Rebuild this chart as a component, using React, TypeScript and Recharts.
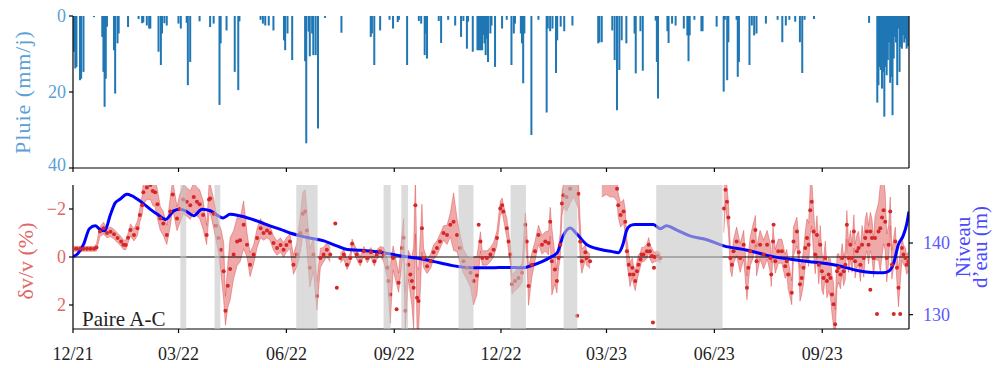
import React from 'react';
import { ComposedChart, Bar, Line, Area, XAxis, YAxis, ReferenceArea, ReferenceLine } from 'recharts';

const FONT = '"Liberation Serif", "DejaVu Serif", serif';
const X_MAX = 713; // days since 2021-12-01
const TICK_DAYS = [0, 90, 182, 274, 365, 455, 547, 639];
const TICK_LABELS = ['12/21', '03/22', '06/22', '09/22', '12/22', '03/23', '06/23', '09/23'];
const RAIN_TICKS = [0, 20, 40];
const DVV_TICKS = [-2, 0, 2];
const LEVEL_TICKS = [130, 140];

// [day, rain mm/j]
const RAIN: [number, number][] = [
  [1, 9.4], [2, 13.8], [3, 13.4], [6, 16.9], [7, 16.5], [9, 14.7], [18, 0.3], [25, 5.5], [26, 14.7], [27, 23.9],
  [28, 16.5], [29, 2.8], [35, 9], [36, 20.4], [38, 7.2], [39, 4.6], [47, 2.9], [56, 0.8], [59, 1.9], [60, 1.7],
  [63, 2.5], [65, 3.3], [66, 3.3], [73, 9.4], [75, 12.9], [76, 4.6], [78, 1.9], [80, 2.5], [90, 2], [92, 3.3],
  [97, 1.8], [98, 18.2], [100, 12.1], [108, 1.4], [117, 2.9], [120, 2], [125, 23.4], [126, 7.2], [131, 3.8],
  [138, 14.7], [141, 19.5], [142, 1.4], [160, 1], [162, 2], [164, 2.5], [167, 2.5], [171, 3.8], [180, 6.4],
  [181, 9], [183, 4.6], [187, 11.6], [198, 11.9], [199, 33.5], [201, 4.1], [202, 10.6], [204, 4.6], [205, 10.3],
  [207, 10.3], [209, 29.6], [215, 0.5], [229, 4.4], [254, 5.5], [255, 4.6], [257, 12.9], [262, 3.8], [270, 1],
  [273, 3.3], [277, 1.6], [278, 1], [285, 12.9], [295, 1.3], [297, 2], [300, 10.3], [301, 4.6], [302, 11.2],
  [312, 1.3], [314, 7.1], [320, 1], [326, 2.5], [331, 5.5], [333, 1.3], [336, 8.6], [337, 1.5], [341, 9.4],
  [345, 9], [346, 9], [347, 9], [348, 9], [349, 9], [350, 5], [351, 7.2], [352, 10.3], [353, 6], [354, 12.1],
  [356, 4.6], [357, 2.5], [360, 13.4], [366, 3.3], [370, 1], [374, 12.9], [376, 4.6], [377, 2], [382, 4.6],
  [383, 7.2], [384, 17.7], [385, 4.6], [391, 31.3], [397, 1], [404, 25.4], [405, 3.3], [407, 4], [409, 3.3],
  [412, 15], [413, 6.4], [416, 2.8], [419, 4], [426, 2.5], [448, 7.2], [449, 6.9], [451, 6.9], [460, 3.8],
  [462, 11.6], [464, 24.8], [466, 14.2], [468, 6.4], [472, 7.2], [479, 4.6], [480, 15.1], [484, 4], [486, 14.4],
  [497, 1.2], [498, 12.1], [499, 21.7], [507, 4], [508, 7.1], [511, 2], [514, 2.5], [521, 3.3], [524, 5.1],
  [525, 11.9], [526, 5.1], [530, 1], [536, 4], [537, 4], [549, 2.8], [555, 19.9], [556, 1], [558, 16.9],
  [559, 6.9], [566, 1], [567, 16], [568, 12.1], [577, 12.9], [579, 2.5], [581, 5.1], [583, 4.6], [591, 2],
  [601, 1], [605, 6.9], [608, 2.5], [611, 1], [616, 1.5], [620, 6.9], [622, 15], [624, 1], [632, 0.8], [679, 1.8],
  [686, 22.8], [687, 18.2], [688, 13.4], [689, 14.2], [690, 19.1], [691, 14.7], [692, 26.5], [693, 13.4],
  [694, 15.6], [695, 11.6], [696, 6.9], [697, 17.6], [698, 16], [699, 26.1], [700, 11.2], [701, 5.5], [702, 7],
  [703, 18.2], [704, 3.3], [705, 14.7], [706, 8.1], [707, 8.6], [708, 5], [709, 7], [710, 6], [711, 8.6], [712, 8],
];

// [day, water level m]
const LEVEL: [number, number][] = [
  [0, 138.1], [4, 138.5], [9, 139.8], [14, 142], [19, 142.4], [23, 141.9], [27, 141.7], [32, 144], [36, 145.6],
  [40, 146.1], [46, 146.8], [50, 146.6], [55, 146.1], [60, 145.5], [66, 144.7], [72, 144], [79, 143.3], [86, 144.5],
  [91, 144.7], [96, 144.5], [103, 143.8], [110, 144.7], [117, 144.5], [123, 143.9], [128, 143.5], [134, 144],
  [142, 143.8], [151, 143.4], [160, 142.9], [168, 142.4], [177, 141.9], [185, 141.4], [194, 141], [202, 140.7],
  [214, 140.3], [225, 139.6], [234, 139.1], [245, 139], [265, 138.65], [280, 138.2], [293, 137.9], [308, 137.4],
  [322, 136.9], [335, 136.6], [345, 136.55], [357, 136.55], [370, 136.6], [384, 136.55], [390, 136.8], [400, 137.4],
  [407, 138], [413, 138.65], [418, 141], [424, 142.1], [430, 141.2], [438, 139.8], [450, 139.1], [460, 138.8],
  [465, 138.65], [469, 139.8], [472, 141.7], [475, 142.4], [479, 142.6], [495, 142.6], [501, 142], [506, 142.4],
  [515, 141.8], [526, 141], [540, 140.5], [555, 139.6], [575, 139], [597, 138.1], [623, 137.5], [651, 136.9],
  [671, 136.1], [681, 135.9], [691, 135.85], [696, 136.1], [700, 137.25], [704, 139.8], [708, 141], [711, 142.6],
  [713, 144.4],
];

// [day, dv/v %, half-width of uncertainty band]
const DVV: [number, number, number][] = [
  [0, -0.34, 0.1], [3, -0.34, 0.1], [6, -0.34, 0.1], [9, -0.34, 0.1], [12, -0.34, 0.1], [15, -0.34, 0.1],
  [18, -0.34, 0.1], [20, -0.4, 0.15], [23, -1.06, 0.2], [26, -1.2, 0.25], [29, -1.0, 0.2], [32, -1.05, 0.2],
  [35, -0.95, 0.2], [38, -0.79, 0.2], [41, -0.65, 0.2], [43, -0.51, 0.2], [45, -0.5, 0.2], [47, -0.8, 0.2],
  [49, -1.13, 0.25], [52, -0.92, 0.25], [55, -1.2, 0.3], [57, -1.75, 0.3], [59, -2.16, 0.4], [60, -2.7, 0.5],
  [63, -2.9, 0.5], [66, -3.0, 0.6], [68, -2.75, 0.6], [70, -2.7, 0.6], [72, -2.2, 0.6], [74.5, -1.6, 0.5],
  [77, -1.4, 0.5], [80, -0.92, 0.4], [83, -1.9, 0.6], [85, -2.6, 0.6], [88.7, -1.6, 0.5], [91, -2.0, 0.6],
  [94, -2.4, 0.6], [97, -2.3, 0.6], [100, -2.16, 0.6], [103, -2.5, 0.6], [105.7, -2.3, 0.6], [108, -2.2, 0.6],
  [111, -1.75, 0.6], [114, -0.92, 0.4], [116, -2.4, 0.6], [117, -2.44, 0.6], [120, -1.8, 0.6], [122, -1.3, 0.6],
  [124, -0.79, 0.6], [126, -0.3, 0.9], [128.5, 0.59, 1.2], [130, 2.24, 0.6], [132, 1.2, 0.9], [134, 0.5, 1.3],
  [137, -0.1, 1.0], [140, -0.65, 1.0], [142.5, -0.7, 0.9], [145.5, -1.34, 1.0], [148.4, -0.51, 0.5],
  [151, 0.32, 0.5], [154, -0.1, 0.4], [157, -0.79, 0.4], [160, -1.2, 0.4], [162.5, -1.0, 0.3], [165.5, -1.1, 0.3],
  [168, -1.0, 0.3], [171, -0.58, 0.3], [174, -0.37, 0.3], [177, -0.5, 0.3], [179.6, -0.3, 0.3], [182, -0.5, 0.3],
  [185, -0.65, 0.3], [188, 0.32, 0.4], [191, -0.1, 0.5], [194, -1.0, 0.8], [196, -1.8, 0.9], [198, -1.9, 0.9],
  [199.5, -1.1, 0.8], [202, 0.45, 0.8], [205, -0.1, 0.7], [208, 1.62, 0.6], [211, 0.04, 0.4], [213.7, -0.1, 0.3],
  [216.5, -0.3, 0.3], [219.4, -0.1, 0.3], [228, 0.04, 0.2], [231, -0.1, 0.2], [233.7, 0.32, 0.2],
  [236.5, 0.04, 0.2], [238, -0.55, 0.2], [242, -0.1, 0.2], [245, 0.18, 0.2], [248, -0.24, 0.2], [251, 0.04, 0.2],
  [254, -0.2, 0.2], [257, 0.18, 0.2], [259, -0.1, 0.2], [262, -0.24, 0.2], [265, -0.1, 0.3], [268, 0.45, 0.4],
  [269, 1.0, 0.6], [270.6, 1.56, 1.2], [273, 0.04, 0.5], [277.7, 1.07, 0.4], [280.6, -0.37, 0.6],
  [282, -0.8, 0.8], [283.4, 2.24, 0.8], [286, 0.32, 0.6], [287.7, 0.73, 0.8], [289, 1.0, 1.0], [290.5, 1.28, 1.7],
  [292, -2.16, 1.2], [293.4, 1.7, 1.3], [294.7, 1.83, 1.3], [297.6, -1.2, 1.0], [299, 0.04, 0.4], [302, 0.39, 0.3],
  [305, 0.18, 0.3], [307.5, -0.2, 0.3], [310.4, -0.37, 0.3], [313, -0.65, 0.3], [316, -1.0, 0.3], [319, -0.92, 0.4],
  [321.8, -1.34, 0.5], [324.6, -1.47, 1.2], [327.5, -0.92, 0.7], [330, -0.37, 0.6], [333, 0.18, 0.5],
  [336, 0.45, 0.5], [339, 0.66, 0.6], [341.6, 1.0, 1.0], [344.5, 0.77, 0.8], [347.5, -0.65, 0.4], [349, 0.04, 0.3],
  [353, 0.04, 0.3], [356, -0.1, 0.3], [358.7, -0.3, 0.3], [361.6, -0.79, 0.3], [364.4, -2.02, 0.3],
  [366, -2.16, 0.3], [367, -1.9, 0.3], [370, -1.2, 0.4], [371.5, -0.65, 0.4], [373, -0.1, 0.4], [374.4, 1.14, 0.4],
  [377, 1.0, 0.4], [380, 0.87, 0.4], [383, 0.66, 0.4], [385.7, -1.34, 0.5], [387, -0.65, 0.5], [388.5, 1.21, 0.8],
  [391.4, 0.32, 0.5], [394, -0.24, 0.4], [397, -0.92, 0.4], [400, -0.51, 0.4], [402.8, -0.65, 0.4],
  [405.6, -0.58, 0.5], [407, -1.47, 0.6], [408.4, 0.18, 1.4], [411, 0.52, 0.6], [412.7, 1.0, 0.5], [414, 0.04, 0.5],
  [415.6, -0.51, 0.5], [417, -2.23, 0.5], [418.4, -2.57, 0.5], [421, -2.5, 0.6], [424, -2.84, 0.6],
  [427, -3.1, 0.6], [431, -2.64, 0.6], [432.6, -0.65, 0.8], [434, 0.18, 0.5], [437, -0.2, 0.3], [438, 0.04, 0.3],
  [441, 0.18, 0.3],
  [451, -3.3, 0.8], [455, -3.3, 0.7], [458, -3.2, 0.7], [461, -3.1, 0.6], [464, -2.84, 0.5], [465, -2.16, 0.5],
  [467, -1.75, 0.5], [469.6, -1.9, 0.5], [471, -1.47, 0.5], [472.4, -0.24, 0.5], [474, 0.32, 0.5], [475, 0.73, 0.5],
  [477, 0.45, 0.4], [478, 0.73, 0.4], [479.5, 1.0, 0.4], [481, 0.59, 0.4], [482.3, 0.32, 0.4], [484, 0.1, 0.3],
  [485, -0.1, 0.3], [486.6, -0.1, 0.3], [489.5, -0.24, 0.3], [491, -0.51, 0.3], [492, -0.24, 0.3],
  [493.8, -0.04, 0.3], [496, 0.0, 0.2], [499, -0.04, 0.2], [501, 0.04, 0.2],
  [555, -2.02, 1.0], [556.5, -2.8, 0.6], [557.7, -2.3, 0.7], [559, -1.65, 0.6], [560.6, 0.04, 0.5],
  [562, 0.32, 0.5], [563.4, -0.24, 0.5], [566, -0.65, 0.6], [569, 0.04, 0.6], [572, -0.51, 0.6], [574.8, 1.28, 0.5],
  [576, 0.45, 0.6], [577.6, -0.24, 0.6], [580, -0.65, 0.7], [582, -1.13, 0.6], [583, 0.18, 0.6], [586, -0.51, 0.6],
  [589, -0.1, 0.6], [592, -0.51, 0.6], [594.7, 0.04, 0.6], [595.5, 0.73, 0.5], [597, -0.65, 0.6], [599, 0.18, 0.5],
  [601.5, -0.24, 0.5], [604.6, -0.24, 0.5], [607.4, 0.39, 0.5], [608.7, 0.18, 0.5], [610, 0.73, 0.6],
  [613, 1.49, 0.5], [614.5, -0.65, 0.6], [617.4, -1.06, 0.6], [619, -0.2, 0.6], [620, 1.14, 0.7],
  [621.5, 0.87, 0.7], [623, 0.45, 0.7], [624.5, -0.37, 0.7], [626, -0.79, 0.8], [627.4, -0.51, 0.9],
  [628.8, -1.95, 1.0], [630, -2.3, 1.0], [631.6, -1.06, 0.9], [633, -0.1, 0.8], [634.5, -0.92, 0.8],
  [636, 0.32, 0.8], [637.3, -0.51, 0.8], [638.7, 0.59, 0.8], [640, 0.87, 0.7], [641.6, 0.04, 0.7], [643, 1.0, 0.7],
  [644.5, 0.73, 0.7], [646, 0.87, 0.8], [647.3, 1.56, 0.8], [648.6, 1.97, 0.9], [650, 2.8, 0.6], [651.6, 0.59, 0.7],
  [653, 0.45, 0.6], [654.5, 0.73, 0.6], [656, 0.04, 0.6], [657.3, 0.59, 0.6], [658.7, 0.32, 0.6], [660, -1.34, 0.6],
  [661.5, 0.04, 0.6], [663, -0.51, 0.6], [664.4, 0.04, 0.6], [666, -1.06, 0.7], [667, 0.18, 0.7], [668.6, -0.24, 0.7],
  [670, -0.37, 0.7], [671.5, 0.32, 0.7], [673, -0.51, 0.8], [674.4, 0.04, 0.8], [675.7, -0.79, 0.8],
  [677, -1.06, 0.8], [678.5, -0.51, 0.8], [680, -1.06, 0.8], [681.4, -0.79, 0.8], [682.8, 0.04, 0.8],
  [684, -0.79, 0.9], [687, -1.06, 1.2], [688.5, -1.2, 1.8], [690, -1.65, 1.6], [691.3, -1.95, 1.4],
  [692.7, -1.47, 1.2], [694, 0.04, 1.0], [695.6, -0.51, 0.8], [697, -1.9, 0.6], [698.4, 0.32, 0.6],
  [701.3, -0.65, 0.6], [702.7, 0.45, 0.6], [704, 1.28, 0.8], [707, -0.37, 0.5], [708.3, -0.1, 0.4],
  [710, 0.04, 0.4], [711, 0.32, 0.4], [712.5, 0.18, 0.4],
];

// isolated dv/v points (no band) [day, dv/v %]
const DVV_ISOLATED: [number, number][] = [
  [223.7, -1.4], [225, 1.28], [276, 2.18], [346, -1.34], [430, 2.45], [494.6, 2.73], [495.5, 0.45],
  [597.5, -1.34], [680, 1.36], [685.7, 2.38], [700, 2.38], [705.5, 2.38],
];

// grey masked periods [start day, end day]
const GRAY_SPANS: [number, number][] = [
  [91.5, 96.6], [120.7, 125.6], [190.4, 208.6], [264.9, 270.9], [280, 285.7],
  [328.8, 341.6], [373.2, 386.3], [418.4, 430.1], [497.4, 554],
];

const rainData = RAIN.map(([day, mm]) => ({ day, mm }));
const levelData = LEVEL.map(([day, lvl]) => ({ day, lvl }));

// split the band into continuous segments where data gaps occur
const bandSegments: { day: number; band: [number, number] }[][] = [];
DVV.forEach(([day, v, e], i) => {
  if (i === 0 || day - DVV[i - 1][0] > 8) bandSegments.push([]);
  bandSegments[bandSegments.length - 1].push({ day, band: [v - e, v + e] });
});
const dotData = [
  ...DVV.map(([day, v]) => ({ day, v })),
  ...DVV_ISOLATED.map(([day, v]) => ({ day, v })),
].sort((a, b) => a.day - b.day);

const RED = '#d62728';
const tickLabel = (d: number) => {
  const i = TICK_DAYS.indexOf(d);
  return i >= 0 ? TICK_LABELS[i] : '';
};
const axisStroke = { stroke: '#000', strokeWidth: 1.2 };

// bar drawn with a minimum visible width (daily bars are narrower than 2px)
const RainBar = (props: any) => {
  const { x, y, width, height } = props;
  if (x == null || y == null || !height) return null;
  const w = Math.max(width || 0, 2);
  const cx = x + (width || 0) / 2;
  const top = height < 0 ? y + height : y;
  return <rect x={cx - w / 2} y={top} width={w} height={Math.abs(height)} fill="#1f77b4" />;
};

export default function App() {
  return (
    <div style={{ position: 'absolute', left: 0, top: 0, width: 993, height: 368, background: '#fff' }}>
      <div style={{ position: 'absolute', left: 0, top: 0 }}>
        <ComposedChart width={993} height={175} data={rainData} margin={{ top: 16, right: 0, bottom: 0, left: 0 }}>
          <XAxis
            dataKey="day" type="number" domain={[0, X_MAX]} ticks={TICK_DAYS} tickFormatter={() => ''}
            height={7} tickSize={4} axisLine={axisStroke} tickLine={axisStroke} allowDataOverflow
          />
          <XAxis xAxisId="top" orientation="top" type="number" domain={[0, X_MAX]} height={0} tick={false} tickLine={false} axisLine={axisStroke} />
          <YAxis
            type="number" reversed domain={[0, 40]} ticks={RAIN_TICKS} width={73} tickSize={4} tickMargin={3}
            axisLine={axisStroke} tickLine={axisStroke}
            tick={{ fill: '#5aa0d8', fontSize: 18, fontFamily: FONT }}
          />
          <YAxis yAxisId="right" orientation="right" width={84} tick={false} tickLine={false} axisLine={axisStroke} />
          <Bar dataKey="mm" fill="#1f77b4" barSize={2} shape={RainBar} isAnimationActive={false} />
        </ComposedChart>
      </div>
      <div style={{ position: 'absolute', left: 0, top: 175 }}>
        <ComposedChart width={993} height={193} margin={{ top: 10, right: 0, bottom: 0, left: 0 }}>
          <XAxis
            xAxisId="b" dataKey="day" type="number" domain={[0, X_MAX]} ticks={TICK_DAYS} tickFormatter={tickLabel}
            height={39} tickSize={4} tickMargin={14} axisLine={axisStroke} tickLine={axisStroke} allowDataOverflow
            tick={{ fill: '#222', fontSize: 18, fontFamily: FONT }}
          />
          <XAxis xAxisId="top" orientation="top" type="number" domain={[0, X_MAX]} height={0} tick={false} tickLine={false} axisLine={axisStroke} />
          <YAxis
            yAxisId="l" type="number" reversed domain={[-3, 3]} ticks={DVV_TICKS} allowDataOverflow width={73}
            tickSize={4} tickMargin={3} axisLine={axisStroke} tickLine={axisStroke}
            tickFormatter={(v: number) => (v < 0 ? '\u2212' + Math.abs(v) : String(v))}
            tick={{ fill: '#e06666', fontSize: 18, fontFamily: FONT }}
          />
          <YAxis
            yAxisId="r" orientation="right" type="number" domain={[128, 148.1]} ticks={LEVEL_TICKS} allowDataOverflow
            width={84} tickSize={4} tickMargin={10} axisLine={axisStroke} tickLine={axisStroke}
            tick={{ fill: '#5a5aff', fontSize: 18, fontFamily: FONT, textAnchor: 'start' }}
          />
          {bandSegments.map((seg, i) => (
            <Area
              key={'band' + i} xAxisId="b" yAxisId="l" data={seg} dataKey="band" type="linear"
              fill={RED} fillOpacity={0.4} stroke={RED} strokeOpacity={0.45} strokeWidth={0.8}
              isAnimationActive={false} dot={false} activeDot={false}
            />
          ))}
          <ReferenceLine xAxisId="b" yAxisId="l" y={0} stroke="#000" strokeWidth={1.2} />
          <Line
            xAxisId="b" yAxisId="l" data={dotData} dataKey="v" stroke="none" isAnimationActive={false}
            dot={{ r: 2, fill: RED, stroke: 'none' }} activeDot={false}
          />
          <Line
            xAxisId="b" yAxisId="r" data={levelData} dataKey="lvl" type="monotone" stroke="#0000ff" strokeWidth={3}
            dot={false} activeDot={false} isAnimationActive={false}
          />
          {GRAY_SPANS.map(([a, b], i) => (
            <ReferenceArea
              key={'g' + i} xAxisId="b" yAxisId="l" x1={a} x2={b} y1={-3} y2={3}
              fill="#c5c5c5" fillOpacity={0.6} stroke="none" zIndex={700}
            />
          ))}
        </ComposedChart>
      </div>
      <svg width={993} height={368} style={{ position: 'absolute', left: 0, top: 0, pointerEvents: 'none' }}>
        <text x={22} y={92} transform="rotate(-90 22 92)" textAnchor="middle" dominantBaseline="central"
          fontFamily={FONT} fontSize={22} letterSpacing={1} fill="#5aa0d8">Pluie (mm/j)</text>
        <text x={25} y={261} transform="rotate(-90 25 261)" textAnchor="middle" dominantBaseline="central"
          fontFamily={FONT} fontSize={22} fill="#e06666">δv/v (%)</text>
        <text x={963} y={247} transform="rotate(-90 963 247)" textAnchor="middle" dominantBaseline="central"
          fontFamily={FONT} fontSize={21} fill="#4a4aff">Niveau</text>
        <text x={980} y={247} transform="rotate(-90 980 247)" textAnchor="middle" dominantBaseline="central"
          fontFamily={FONT} fontSize={21} fill="#4a4aff">d’eau (m)</text>
        <text x={82} y={326} fontFamily={FONT} fontSize={21} fill="#222">Paire A-C</text>
      </svg>
    </div>
  );
}
